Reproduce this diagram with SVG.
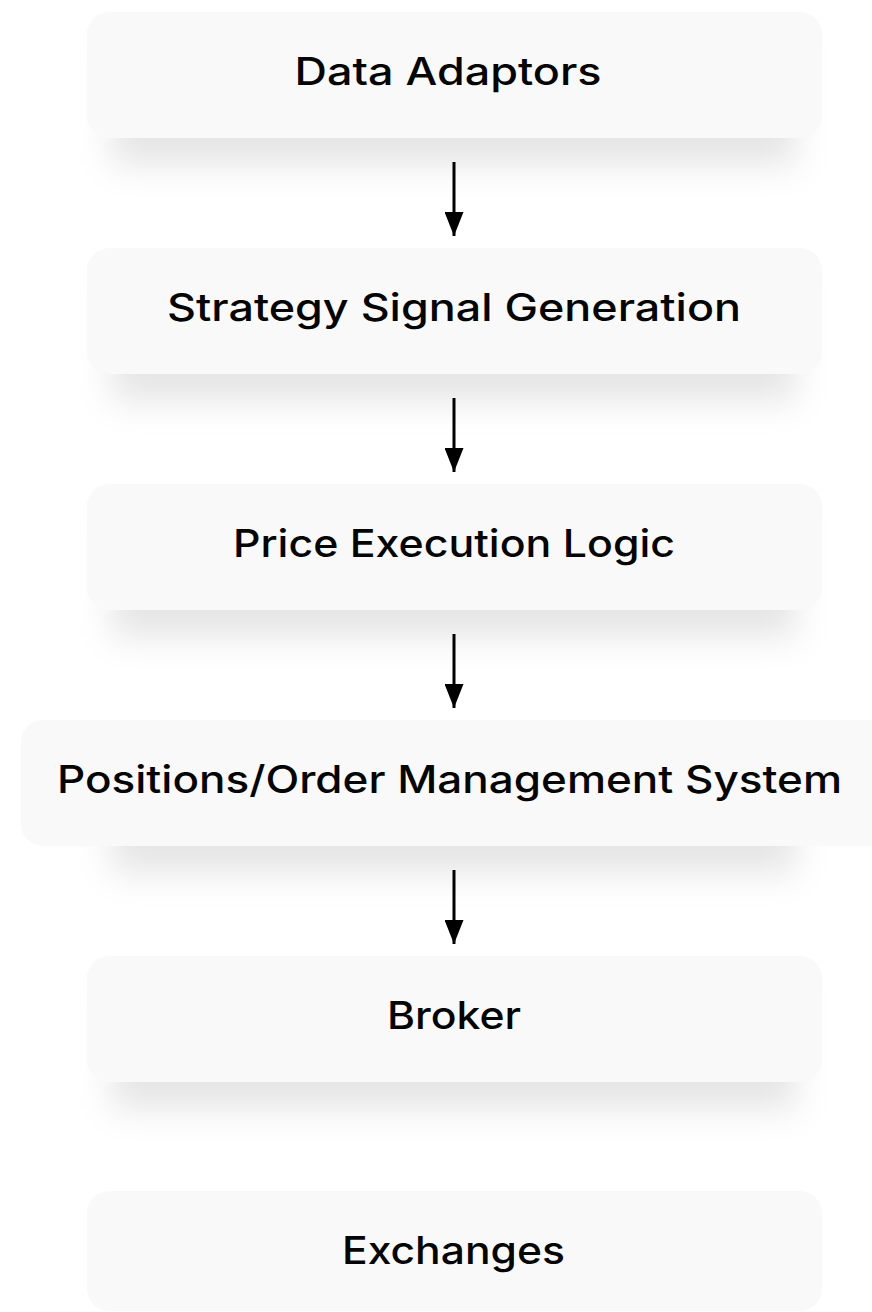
<svg xmlns="http://www.w3.org/2000/svg" width="872" height="1312" viewBox="0 0 872 1312">
<style>
.box{fill:#f9f9f9;}
.sh{fill:#000;fill-opacity:0.10;filter:url(#blur);}
.lbl{font-family:"Inter","Liberation Sans",sans-serif;font-size:38px;font-weight:500;fill:#050505;text-anchor:middle;}
.con line{stroke:#000;stroke-width:3;marker-end:url(#ah);}
</style>
<defs>
<filter id="blur" x="-20%" y="-60%" width="140%" height="220%"><feGaussianBlur stdDeviation="17"/></filter>
<marker id="ah" markerWidth="24" markerHeight="19" refX="24" refY="9.5" orient="auto" markerUnits="userSpaceOnUse" viewBox="0 0 24 19">
<path d="M0,0 L24,9.5 L0,19 Z" fill="#000"/>
</marker>
</defs>
<rect width="872" height="1312" fill="#fff"/>
<g id="shadows">
<rect class="sh" x="112" y="50" width="684" height="115"/>
<rect class="sh" x="112" y="286" width="684" height="115"/>
<rect class="sh" x="112" y="522" width="684" height="115"/>
<rect class="sh" x="112" y="758" width="684" height="115"/>
<rect class="sh" x="112" y="994" width="684" height="115"/>
</g>
<g id="n1"><rect class="box" x="87" y="12" width="735" height="126" rx="22"/><text class="lbl" x="448" y="85" textLength="307" lengthAdjust="spacingAndGlyphs">Data Adaptors</text></g>
<g id="n2"><rect class="box" x="87" y="248" width="735" height="126" rx="22"/><text class="lbl" x="454" y="321" textLength="574" lengthAdjust="spacingAndGlyphs">Strategy Signal Generation</text></g>
<g id="n3"><rect class="box" x="87" y="484" width="735" height="126" rx="22"/><text class="lbl" x="454" y="557" textLength="442" lengthAdjust="spacingAndGlyphs">Price Execution Logic</text></g>
<g id="n4"><rect class="box" x="21" y="720" width="880" height="126" rx="22"/><text class="lbl" x="449.5" y="793" textLength="785" lengthAdjust="spacingAndGlyphs">Positions/Order Management System</text></g>
<g id="n5"><rect class="box" x="87" y="956" width="735" height="126" rx="22"/><text class="lbl" x="454" y="1029" textLength="134" lengthAdjust="spacingAndGlyphs">Broker</text></g>
<g id="n6"><rect class="box" x="87" y="1191" width="735" height="120" rx="22"/><text class="lbl" x="453.5" y="1264" textLength="223" lengthAdjust="spacingAndGlyphs">Exchanges</text></g>
<g id="connectors" class="con">
<line x1="454" y1="162" x2="454" y2="236"/>
<line x1="454" y1="398" x2="454" y2="472"/>
<line x1="454" y1="634" x2="454" y2="708"/>
<line x1="454" y1="870" x2="454" y2="944"/>
</g>
</svg>
